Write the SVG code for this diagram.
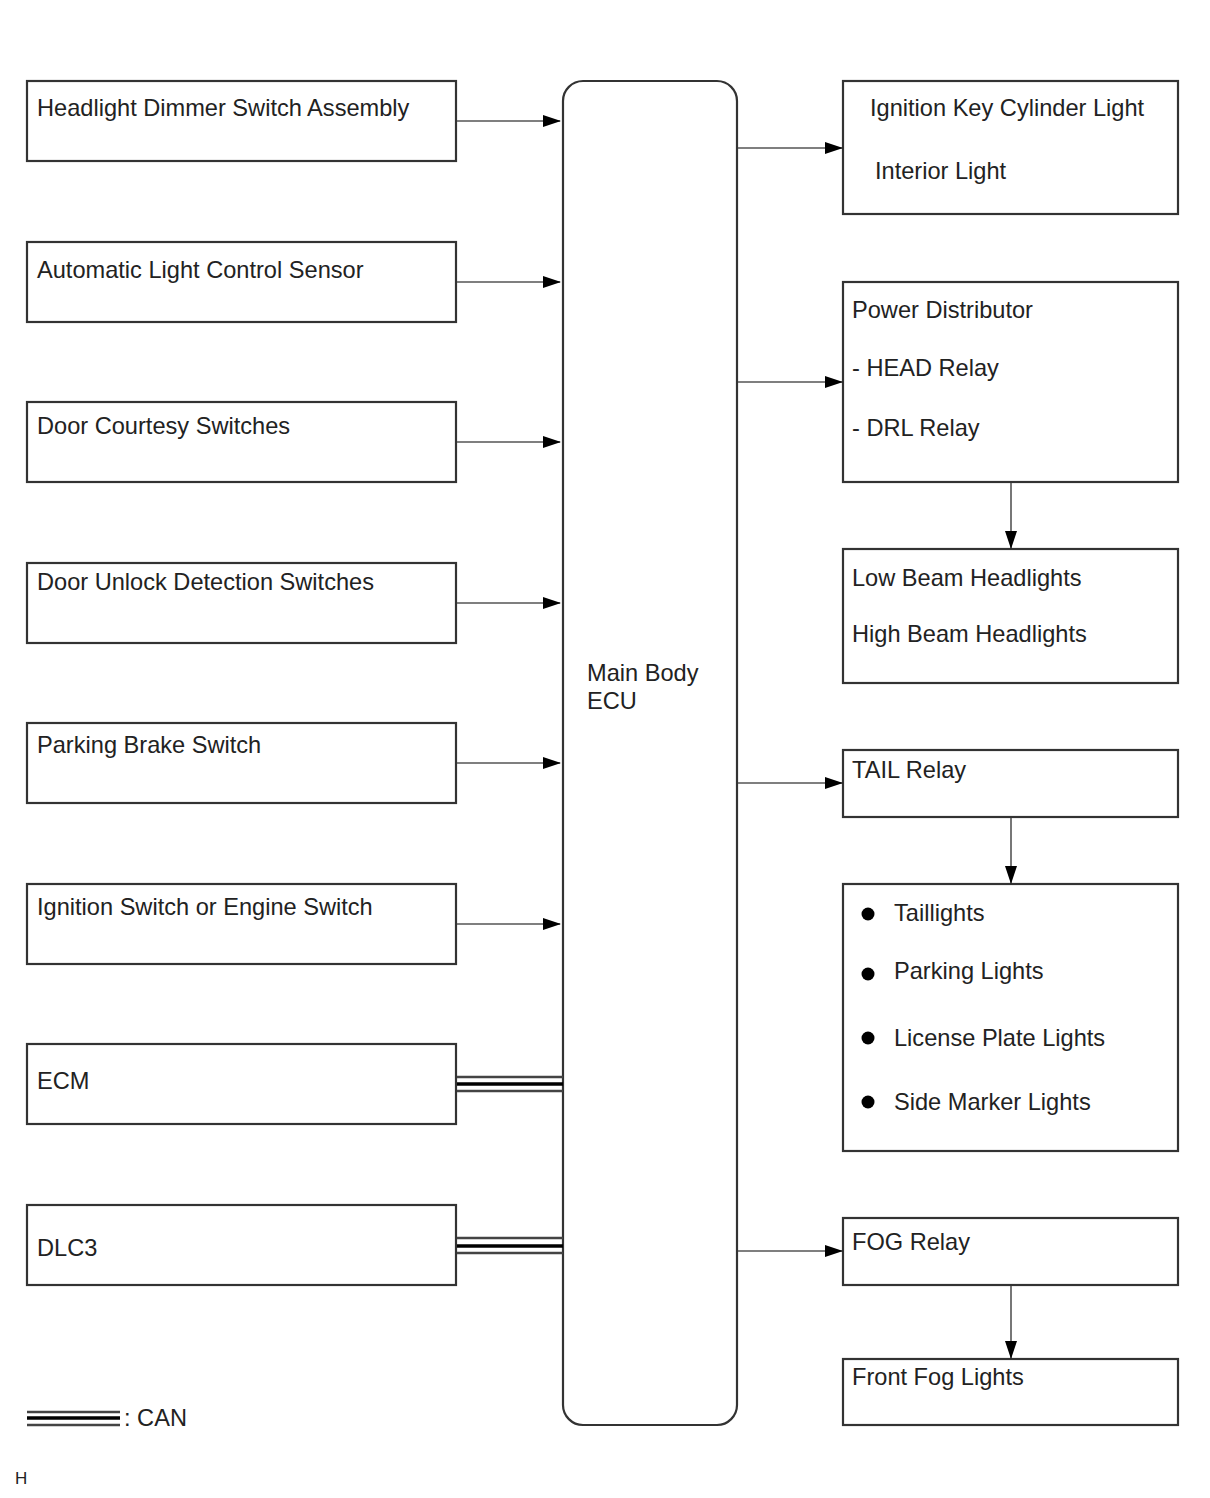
<svg xmlns="http://www.w3.org/2000/svg" width="1210" height="1498" viewBox="0 0 1210 1498">
<style>
.box{fill:#fff;stroke:#333;stroke-width:2.2}
.t{font-family:"Liberation Sans",Arial,sans-serif;font-size:23.6px;fill:#222}
.ln{stroke:#555;stroke-width:1.6;fill:none}
.can1{stroke:#444;stroke-width:2.5}
.can2{stroke:#000;stroke-width:3.5}
</style>
<defs>
<marker id="ah" markerWidth="18" markerHeight="12" refX="17" refY="6" orient="auto" markerUnits="userSpaceOnUse">
<path d="M0,0 L18,6 L0,12 z" fill="#000"/>
</marker>
</defs>
<rect width="1210" height="1498" fill="#fff"/>

<g id="headlight-dimmer"><rect class="box" x="27" y="81" width="429" height="80"/><text class="t" x="37" y="116">Headlight Dimmer Switch Assembly</text></g>
<g id="auto-light-sensor"><rect class="box" x="27" y="242" width="429" height="80"/><text class="t" x="37" y="278">Automatic Light Control Sensor</text></g>
<g id="door-courtesy"><rect class="box" x="27" y="402" width="429" height="80"/><text class="t" x="37" y="434">Door Courtesy Switches</text></g>
<g id="door-unlock"><rect class="box" x="27" y="563" width="429" height="80"/><text class="t" x="37" y="590">Door Unlock Detection Switches</text></g>
<g id="parking-brake"><rect class="box" x="27" y="723" width="429" height="80"/><text class="t" x="37" y="753">Parking Brake Switch</text></g>
<g id="ignition-switch"><rect class="box" x="27" y="884" width="429" height="80"/><text class="t" x="37" y="915">Ignition Switch or Engine Switch</text></g>
<g id="ecm"><rect class="box" x="27" y="1044" width="429" height="80"/><text class="t" x="37" y="1089">ECM</text></g>
<g id="dlc3"><rect class="box" x="27" y="1205" width="429" height="80"/><text class="t" x="37" y="1256">DLC3</text></g>

<g id="main-body-ecu"><rect class="box" x="563" y="81" width="174" height="1344" rx="20"/><text class="t" x="587" y="681">Main Body</text><text class="t" x="587" y="709">ECU</text></g>

<g id="key-cylinder-light"><rect class="box" x="843" y="81" width="335" height="133"/><text class="t" x="870" y="116">Ignition Key Cylinder Light</text><text class="t" x="875" y="179">Interior Light</text></g>
<g id="power-distributor"><rect class="box" x="843" y="282" width="335" height="200"/><text class="t" x="852" y="318">Power Distributor</text><text class="t" x="852" y="376">- HEAD Relay</text><text class="t" x="852" y="436">- DRL Relay</text></g>
<g id="headlights"><rect class="box" x="843" y="549" width="335" height="134"/><text class="t" x="852" y="586">Low Beam Headlights</text><text class="t" x="852" y="642">High Beam Headlights</text></g>
<g id="tail-relay"><rect class="box" x="843" y="750" width="335" height="67"/><text class="t" x="852" y="778">TAIL Relay</text></g>
<g id="tail-lights"><rect class="box" x="843" y="884" width="335" height="267"/>
<circle cx="868" cy="914" r="6.5" fill="#000"/><text class="t" x="894" y="921">Taillights</text>
<circle cx="868" cy="974" r="6.5" fill="#000"/><text class="t" x="894" y="979">Parking Lights</text>
<circle cx="868" cy="1038" r="6.5" fill="#000"/><text class="t" x="894" y="1046">License Plate Lights</text>
<circle cx="868" cy="1102" r="6.5" fill="#000"/><text class="t" x="894" y="1110">Side Marker Lights</text></g>
<g id="fog-relay"><rect class="box" x="843" y="1218" width="335" height="67"/><text class="t" x="852" y="1250">FOG Relay</text></g>
<g id="front-fog-lights"><rect class="box" x="843" y="1359" width="335" height="66"/><text class="t" x="852" y="1385">Front Fog Lights</text></g>

<g id="connectors">
<line class="ln" x1="457" y1="121" x2="560" y2="121" marker-end="url(#ah)"/>
<line class="ln" x1="457" y1="282" x2="560" y2="282" marker-end="url(#ah)"/>
<line class="ln" x1="457" y1="442" x2="560" y2="442" marker-end="url(#ah)"/>
<line class="ln" x1="457" y1="603" x2="560" y2="603" marker-end="url(#ah)"/>
<line class="ln" x1="457" y1="763" x2="560" y2="763" marker-end="url(#ah)"/>
<line class="ln" x1="457" y1="924" x2="560" y2="924" marker-end="url(#ah)"/>
<line class="can1" x1="457" y1="1077" x2="563" y2="1077"/>
<line class="can2" x1="457" y1="1084" x2="563" y2="1084"/>
<line class="can1" x1="457" y1="1091" x2="563" y2="1091"/>
<line class="can1" x1="457" y1="1238" x2="563" y2="1238"/>
<line class="can2" x1="457" y1="1246" x2="563" y2="1246"/>
<line class="can1" x1="457" y1="1253" x2="563" y2="1253"/>
<line class="ln" x1="738" y1="148" x2="842" y2="148" marker-end="url(#ah)"/>
<line class="ln" x1="738" y1="382" x2="842" y2="382" marker-end="url(#ah)"/>
<line class="ln" x1="738" y1="783" x2="842" y2="783" marker-end="url(#ah)"/>
<line class="ln" x1="738" y1="1251" x2="842" y2="1251" marker-end="url(#ah)"/>
<line class="ln" x1="1011" y1="483" x2="1011" y2="548" marker-end="url(#ah)"/>
<line class="ln" x1="1011" y1="818" x2="1011" y2="883" marker-end="url(#ah)"/>
<line class="ln" x1="1011" y1="1286" x2="1011" y2="1358" marker-end="url(#ah)"/>
</g>

<g id="legend">
<line class="can1" x1="27" y1="1412" x2="120" y2="1412"/>
<line class="can2" x1="27" y1="1418" x2="120" y2="1418"/>
<line class="can1" x1="27" y1="1425" x2="120" y2="1425"/>
<text class="t" x="124" y="1426">: CAN</text>
<text x="15" y="1484" font-family="Liberation Sans, Arial, sans-serif" font-size="17" fill="#222">H</text>
</g>
</svg>
